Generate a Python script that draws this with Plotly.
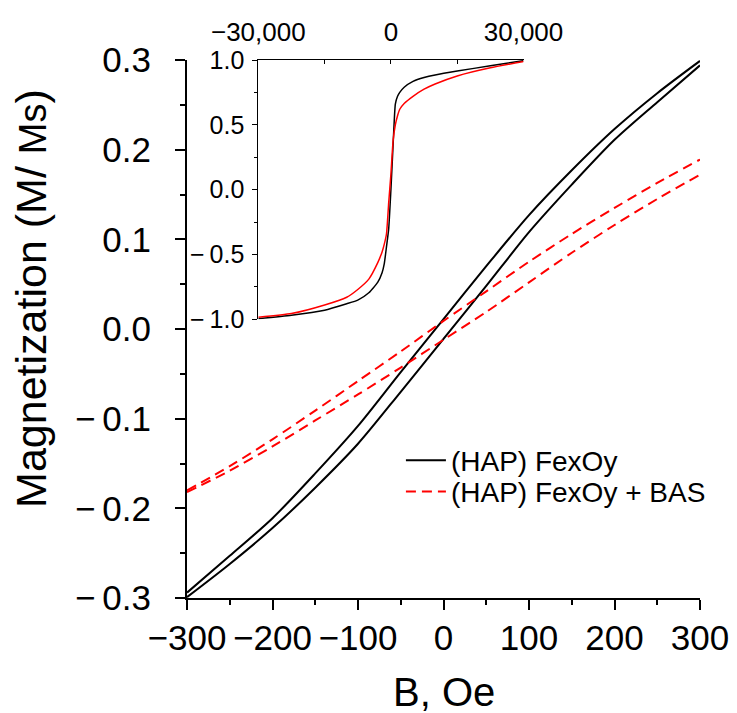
import plotly.graph_objects as go

# ---------------- data ----------------
B_MAIN = [-300, -250, -200, -150, -100, -50, 0, 50, 100, 150, 200, 250, 300]
HAP_DESC = [-0.294, -0.253, -0.211, -0.161, -0.108, -0.048, 0.011, 0.070, 0.127, 0.177, 0.223, 0.263, 0.299]
HAP_ASC = [-0.299, -0.262, -0.222, -0.177, -0.128, -0.070, -0.011, 0.048, 0.108, 0.161, 0.211, 0.253, 0.294]
BAS_DESC = [-0.180, -0.153, -0.123, -0.091, -0.058, -0.025, 0.009, 0.042, 0.075, 0.106, 0.135, 0.163, 0.189]
BAS_ASC = [-0.182, -0.158, -0.131, -0.102, -0.073, -0.043, -0.012, 0.019, 0.052, 0.085, 0.116, 0.145, 0.172]

B_INSET = [-30000, -22500, -15000, -10000, -7500, -5000, -3000, -2000, -1500, -1000, -500, 0,
           500, 1000, 1500, 2000, 3000, 5000, 7500, 10000, 15000, 22500, 30000]
HAP_INSET = [-0.995, -0.969, -0.930, -0.880, -0.852, -0.795, -0.715, -0.640, -0.570, -0.440, -0.300, 0.000,
             0.350, 0.660, 0.720, 0.750, 0.790, 0.835, 0.865, 0.885, 0.915, 0.955, 0.995]
BAS_INSET = [-0.985, -0.956, -0.890, -0.830, -0.770, -0.690, -0.565, -0.480, -0.420, -0.340, -0.100, 0.120,
             0.380, 0.500, 0.570, 0.620, 0.665, 0.720, 0.775, 0.815, 0.877, 0.940, 0.988]

SERIES_NAMES = ["(HAP) FexOy", "(HAP) FexOy + BAS"]
X_TITLE = "B, Oe"
Y_TITLE = "Magnetization (M/ <span style='font-size:38px'>Ms</span>)"

X_TICKS = [-300, -200, -100, 0, 100, 200, 300]
X_TICKTEXT = ["\u2212300", "\u2212200", "\u2212100", "0", "100", "200", "300"]
Y_TICKS = [-0.3, -0.2, -0.1, 0.0, 0.1, 0.2, 0.3]
Y_TICKTEXT = ["\u2212\u20090.3", "\u2212\u20090.2", "\u2212\u20090.1", "0.0", "0.1", "0.2", "0.3"]
IX_TICKS = [-30000, -15000, 0, 15000, 30000]
IX_TICKTEXT = ["\u221230,000", "", "0", "", "30,000"]
IY_TICKS = [-1.0, -0.5, 0.0, 0.5, 1.0]
IY_TICKTEXT = ["\u2212\u20091.0", "\u2212\u20090.5", "0.0", "0.5", "1.0"]

FONT = "Liberation Sans, Arial, sans-serif"
BLACK = "#000000"
RED = "#ff0000"

fig = go.Figure()

# main loops
fig.add_trace(go.Scatter(x=B_MAIN, y=HAP_DESC, mode="lines", name=SERIES_NAMES[0], legend="legend",
                         line=dict(color=BLACK, width=2, shape="spline", smoothing=0.8)))
fig.add_trace(go.Scatter(x=B_MAIN, y=HAP_ASC, mode="lines", name=SERIES_NAMES[0], showlegend=False,
                         line=dict(color=BLACK, width=2, shape="spline", smoothing=0.8)))
fig.add_trace(go.Scatter(x=B_MAIN, y=BAS_DESC, mode="lines", name=SERIES_NAMES[1], legend="legend2",
                         line=dict(color=RED, width=2, dash="10px,6px", shape="spline", smoothing=0.8)))
fig.add_trace(go.Scatter(x=B_MAIN, y=BAS_ASC, mode="lines", name=SERIES_NAMES[1], showlegend=False,
                         line=dict(color=RED, width=2, dash="10px,6px", shape="spline", smoothing=0.8)))

# inset
fig.add_trace(go.Scatter(x=B_INSET, y=HAP_INSET, mode="lines", showlegend=False, xaxis="x2", yaxis="y2",
                         line=dict(color=BLACK, width=1.5, shape="spline", smoothing=0.5)))
fig.add_trace(go.Scatter(x=B_INSET, y=BAS_INSET, mode="lines", showlegend=False, xaxis="x2", yaxis="y2",
                         line=dict(color=RED, width=1.5, shape="spline", smoothing=0.5)))

legend_common = dict(xanchor="left", yanchor="top", bgcolor="rgba(0,0,0,0)",
                     font=dict(size=28, family=FONT, color=BLACK), itemwidth=40)

fig.update_layout(
    width=729, height=705,
    margin=dict(l=179, r=37, t=52, b=115, autoexpand=False),
    paper_bgcolor="white", plot_bgcolor="rgba(0,0,0,0)",
    font=dict(family=FONT, color=BLACK),
    showlegend=True,
    legend=dict(x=0.417, y=0.302, **legend_common),
    legend2=dict(x=0.417, y=0.244, **legend_common),
    xaxis=dict(
        range=[-300, 300], domain=[0, 1], anchor="y", automargin=False,
        showline=True, linewidth=2, linecolor=BLACK, mirror=False,
        showgrid=False, zeroline=False,
        ticks="outside", ticklen=10, tickwidth=2, tickcolor=BLACK,
        tickvals=X_TICKS, ticktext=X_TICKTEXT,
        tickfont=dict(size=35, family=FONT), ticklabelstandoff=-2,
        minor=dict(dtick=50, ticks="outside", ticklen=5, tickwidth=2, tickcolor=BLACK, showgrid=False),
    ),
    yaxis=dict(
        range=[-0.3, 0.3], domain=[0, 1], anchor="x", automargin=False,
        showline=True, linewidth=2, linecolor=BLACK, mirror=False,
        showgrid=False, zeroline=False,
        ticks="outside", ticklen=10, tickwidth=2, tickcolor=BLACK,
        tickvals=Y_TICKS, ticktext=Y_TICKTEXT,
        tickfont=dict(size=35, family=FONT), ticklabelstandoff=17,
        minor=dict(dtick=0.05, ticks="outside", ticklen=5, tickwidth=2, tickcolor=BLACK, showgrid=False),
    ),
    xaxis2=dict(
        range=[-30000, 30000], domain=[0.139, 0.656], anchor="y2", side="top", automargin=False,
        showline=True, linewidth=1, linecolor=BLACK, mirror=False,
        showgrid=False, zeroline=False,
        ticks="inside", ticklen=4, tickwidth=1, tickcolor=BLACK,
        tickvals=IX_TICKS, ticktext=IX_TICKTEXT,
        tickfont=dict(size=26, family=FONT), ticklabelstandoff=8,
    ),
    yaxis2=dict(
        range=[-1, 1], domain=[0.518, 1.0], anchor="x2", automargin=False,
        showline=True, linewidth=1, linecolor=BLACK, mirror=False,
        showgrid=False, zeroline=False,
        ticks="outside", ticklen=5, tickwidth=1, tickcolor=BLACK,
        tickvals=IY_TICKS, ticktext=IY_TICKTEXT,
        tickfont=dict(size=25, family=FONT), ticklabelstandoff=3,
        minor=dict(dtick=0.25, ticks="outside", ticklen=3, tickwidth=1, tickcolor=BLACK, showgrid=False),
    ),
    annotations=[
        dict(text=X_TITLE, xref="paper", yref="paper", x=0.5, y=-0.174, xanchor="center", yanchor="middle",
             showarrow=False, font=dict(size=40, family=FONT, color=BLACK)),
        dict(text=Y_TITLE, xref="paper", yref="paper", x=-0.303, y=0.557, xanchor="center", yanchor="middle",
             textangle=-90, showarrow=False, font=dict(size=43, family=FONT, color=BLACK)),
    ],
)

fig.write_html("out.html")
